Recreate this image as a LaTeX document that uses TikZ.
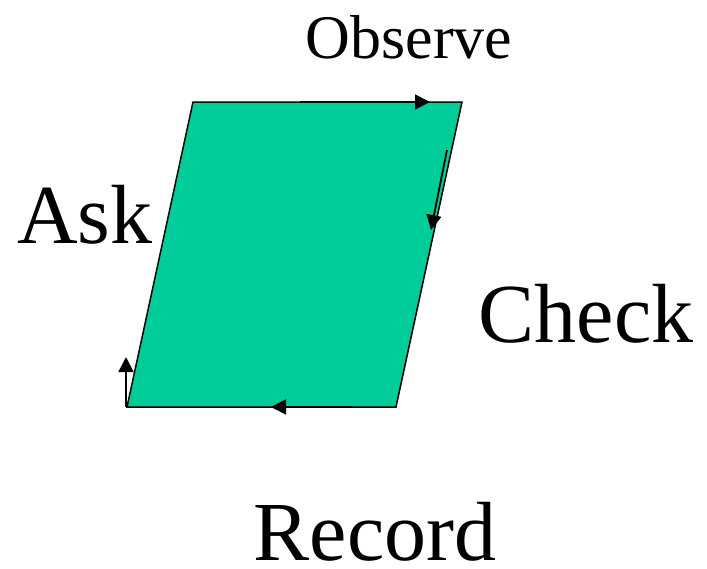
\documentclass[tikz,border=0pt]{standalone}
\usepackage{fontspec}
\setmainfont{Liberation Serif}
\usetikzlibrary{arrows.meta}
\begin{document}
\begin{tikzpicture}[x=1pt,y=-1pt,
  flow/.style={draw=black,line width=1.8pt,-{Triangle[length=15pt,width=15pt]}},
  big/.style={font=\fontsize{84}{90}\selectfont,inner sep=0pt,anchor=base,text depth=0pt},
  small/.style={font=\fontsize{62}{66}\selectfont,inner sep=0pt,anchor=base,text depth=0pt}]
\useasboundingbox (0,0) rectangle (707,568);
\coordinate (tl) at (193,102);
\coordinate (tr) at (462,102);
\coordinate (br) at (396,407);
\coordinate (bl) at (127,407);
\fill[fill={rgb,255:red,0;green,204;blue,153},draw=black,line width=1.5pt] (tl) -- (tr) -- (br) -- (bl) -- cycle;
\coordinate (a1) at (300,102); \coordinate (a2) at (430,102);
\coordinate (b1) at (447,150); \coordinate (b2) at (431,230);
\coordinate (c1) at (352,407); \coordinate (c2) at (271,407);
\coordinate (d1) at (126,407); \coordinate (d2) at (126,357);
\draw[flow] (a1) -- (a2);
\draw[flow] (b1) -- (b2);
\draw[flow] (c1) -- (c2);
\draw[flow] (d1) -- (d2);
\node[small] (obs) at (409,58) {Observe};
\node[big] (ask) at (85,243) {Ask};
\node[big] (chk) at (586,342) {Check};
\node[big] (rec) at (375,560) {Record};
\end{tikzpicture}
\end{document}
